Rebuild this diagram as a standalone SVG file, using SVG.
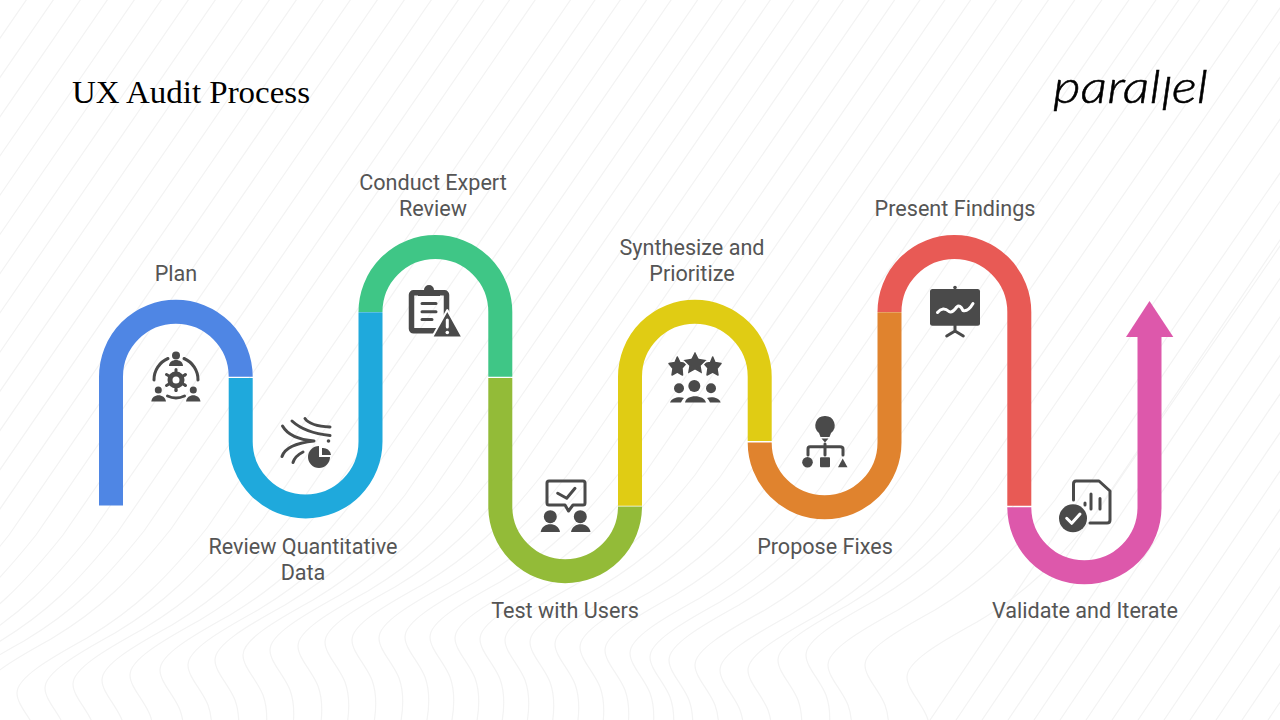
<svg xmlns="http://www.w3.org/2000/svg" width="1280" height="720" viewBox="0 0 1280 720">
<style>
.bg{fill:none;stroke:#f3f3f3;stroke-width:1.2}
.band{fill:none;stroke-width:24}
.lb{font-family:Roboto,"Liberation Sans",sans-serif;font-size:21.6px;fill:#555;text-anchor:middle}
.i{fill:#4a4a4a}
.s{fill:none;stroke:#4a4a4a;stroke-width:3;stroke-linecap:round;stroke-linejoin:round}
.w{fill:none;stroke:#fff;stroke-width:3;stroke-linecap:round;stroke-linejoin:round}
</style>
<defs>
<path id="wv" class="bg" d="M8,130 C22,95 28,62 20,40 C14,25 0,12 0,0 C0,-15 30,-33 70,-55 C120,-85 150,-115 190,-165 L720,-935"/>
<path id="st" class="bg" d="M0,0 L540,-800"/>
</defs>
<rect width="1280" height="720" fill="#fff"/>
<g id="background">
<use href="#wv" x="-640" y="700"/><use href="#wv" x="-613" y="700"/><use href="#wv" x="-586" y="700"/><use href="#wv" x="-559" y="700"/><use href="#wv" x="-532" y="700"/><use href="#wv" x="-505" y="700"/><use href="#wv" x="-478" y="700"/><use href="#wv" x="-451" y="700"/><use href="#wv" x="-424" y="700"/><use href="#wv" x="-397" y="700"/><use href="#wv" x="-370" y="700"/><use href="#wv" x="-343" y="700"/><use href="#wv" x="-316" y="700"/><use href="#wv" x="-289" y="700"/><use href="#wv" x="-262" y="700"/><use href="#wv" x="-235" y="700"/><use href="#wv" x="-208" y="700"/><use href="#wv" x="-181" y="700"/><use href="#wv" x="-154" y="700"/><use href="#wv" x="-127" y="700"/><use href="#wv" x="-100" y="700"/><use href="#wv" x="-73" y="698"/><use href="#wv" x="-46" y="696"/><use href="#wv" x="-19" y="694"/><use href="#wv" x="17" y="693"/><use href="#wv" x="45" y="688"/><use href="#wv" x="73" y="684"/><use href="#wv" x="102" y="680"/><use href="#wv" x="130" y="675"/><use href="#wv" x="160" y="670"/><use href="#wv" x="188" y="665"/><use href="#wv" x="215" y="660"/><use href="#wv" x="243" y="655"/><use href="#wv" x="270" y="650"/><use href="#wv" x="298" y="646"/><use href="#wv" x="325" y="642"/><use href="#wv" x="352" y="640"/><use href="#wv" x="379" y="638"/><use href="#wv" x="405" y="637"/><use href="#wv" x="430" y="637"/><use href="#wv" x="455" y="638"/><use href="#wv" x="480" y="639"/><use href="#wv" x="505" y="640"/><use href="#wv" x="530" y="642"/><use href="#wv" x="555" y="644"/><use href="#wv" x="580" y="647"/><use href="#wv" x="605" y="650"/><use href="#wv" x="630" y="653"/><use href="#wv" x="650" y="657"/><use href="#wv" x="669" y="660"/><use href="#wv" x="695" y="665"/><use href="#wv" x="720" y="670"/><use href="#wv" x="748" y="670"/><use href="#wv" x="778" y="660"/><use href="#wv" x="806" y="655"/><use href="#wv" x="828" y="665"/><use href="#wv" x="865" y="665"/><use href="#wv" x="907" y="677"/>
<use href="#st" x="930" y="720"/><use href="#st" x="956" y="720"/><use href="#st" x="982" y="720"/><use href="#st" x="1008" y="720"/><use href="#st" x="1034" y="720"/><use href="#st" x="1060" y="720"/><use href="#st" x="1086" y="720"/><use href="#st" x="1112" y="720"/><use href="#st" x="1138" y="720"/><use href="#st" x="1164" y="720"/><use href="#st" x="1190" y="720"/><use href="#st" x="1216" y="720"/><use href="#st" x="1242" y="720"/><use href="#st" x="1268" y="720"/>
</g>
<text id="title" x="72" y="103" font-family="'Liberation Serif',serif" font-size="32" fill="#000" textLength="238" lengthAdjust="spacingAndGlyphs">UX Audit Process</text>
<text id="logo" x="1053" y="103" font-family="Lato,'Open Sans',sans-serif" font-weight="300" font-style="italic" font-size="45" fill="#000" stroke="#000" stroke-width="0.5" textLength="155" lengthAdjust="spacingAndGlyphs">paral<tspan dy="7">l</tspan><tspan dy="-7">el</tspan></text>
<g id="connectors">
<path class="band" stroke="#4f86e4" d="M111,505.500 V376.700 A64.850,64.850 0 0 1 240.700,376.700"/>
<path class="band" stroke="#1fa9dc" d="M240.700,378 V441.500 A64.850,64.850 0 0 0 370.500,441.500 V312.300"/>
<path class="band" stroke="#3fc686" d="M370.500,311 V312 A64.850,64.850 0 0 1 500.300,312 V376.700"/>
<path class="band" stroke="#93bb38" d="M500.300,378 V506.400 A64.850,64.850 0 0 0 630,506.400 V507"/>
<path class="band" stroke="#e0cc14" d="M630,505.800 V376.700 A64.850,64.850 0 0 1 759.700,376.700 V441"/>
<path class="band" stroke="#e0832e" d="M759.700,442.400 A64.850,64.850 0 0 0 889.500,442.400 V312.300"/>
<path class="band" stroke="#e85a55" d="M889.500,311 V312 A64.850,64.850 0 0 1 1019.300,312 V505.800"/>
<path class="band" stroke="#dd58ab" d="M1019.300,507.200 A64.850,64.850 0 0 0 1149.500,507.200 V336"/>
<path fill="#dd58ab" d="M1149.500,301 L1173.300,337 H1126 Z"/>
</g>
<g id="plan">
<text class="lb" x="176" y="281">Plan</text>
<circle class="i" cx="176" cy="355.500" r="4"/><path class="i" d="M169,366 C169,358 183,358 183,366 Z"/>
<path class="s" d="M168,358.500 A23,23 0 0 0 154,380 M184,358.500 A23,23 0 0 1 198,380 M167.500,396 Q176,400 184.500,396"/>
<circle cx="176" cy="380" r="6" fill="none" stroke="#4a4a4a" stroke-width="5"/><path class="s" stroke-dasharray="3 15" d="M176,369.500 V390.500 M166.500,374.500 L185.500,385.500 M166.500,385.500 L185.500,374.500"/><path class="s" d="M185.500,385.500 L185,385 M185.500,374.500 L185,375 M176,390.500 V390"/><circle cx="176" cy="380" r="2.500" fill="#fff"/>
<circle class="i" cx="158.300" cy="390" r="3.500"/><path class="i" d="M151.300,401.500 C152,393 165,393 166,401.500 Z"/>
<circle class="i" cx="193.300" cy="390" r="3.500"/><path class="i" d="M186,401.500 C187,393 199.500,393 200.500,401.500 Z"/>
</g>
<g id="review-quantitative-data">
<text class="lb" x="303" y="553.500">Review Quantitative</text><text class="lb" x="303" y="579.500">Data</text>
<path class="s" stroke-width="3.500" d="M305,418.500 Q310,426 330,427 M292,421 Q305,433 330,435.500 M282.500,426 Q290,439 314,441 M282,456.500 Q286,444 314,441 M293,462.500 Q295,456 303,452"/>
<path class="i" d="M319,446 V457 H330 A11,11 0 1 1 319,446 Z"/><path class="i" d="M322,448 A8,8 0 0 1 331,455 H322 Z"/>
<circle class="i" cx="328.500" cy="441" r="1.800"/>
</g>
<g id="conduct-expert-review">
<text class="lb" x="433" y="190">Conduct Expert</text><text class="lb" x="433" y="216">Review</text>
<rect x="411.500" y="292.800" width="35" height="38" rx="2" fill="none" stroke="#4a4a4a" stroke-width="5.500"/>
<path class="i" d="M418,296 V290 H424 A5,5 0 0 1 434,290 H440 V296 Z"/>
<path class="s" d="M422,303.500 H436 M422,311.700 H436 M422,319.500 H432"/>
<path class="i" stroke="#fff" stroke-width="2" stroke-linejoin="round" d="M447.300,310 L462.500,337.500 H432 Z"/>
<path class="w" d="M447.300,320 V327"/><circle cx="447.300" cy="332.500" r="1.800" fill="#fff"/>
</g>
<g id="test-with-users">
<text class="lb" x="565" y="618">Test with Users</text>
<path class="s" d="M549,481 H583 Q585,481 585,483 V503 Q585,505 583,505 H573 L568.500,511 L565,505 H549 Q547,505 547,503 V483 Q547,481 549,481 Z"/>
<path class="s" d="M557.700,493.300 L566.700,498.300 L575,488.300"/>
<circle class="i" cx="550.300" cy="516.700" r="6.500"/><path class="i" d="M540.700,532 C542,521.500 558.500,521.500 560,532 Z"/>
<circle class="i" cx="580.300" cy="516.700" r="6.500"/><path class="i" d="M571,532 C572.500,521.500 589,521.500 590.500,532 Z"/>
</g>
<g id="synthesize-and-prioritize">
<text class="lb" x="692" y="255">Synthesize and</text><text class="lb" x="692" y="281">Prioritize</text>
<path class="i" stroke="#4a4a4a" stroke-width="1.500" stroke-linejoin="round" d="M677.300,357 L680,362.500 L686,363.500 L682,368 L682.500,375 L677.300,372 L672,375 L673,368.500 L669,363.500 L675,362.500 Z"/>
<path class="i" stroke="#4a4a4a" stroke-width="1.500" stroke-linejoin="round" d="M712.700,357 L715,362.500 L721,363.500 L717,368.500 L718,375 L712.700,372 L707,375 L708,368 L704,363.500 L710.500,362.500 Z"/>
<path class="i" stroke="#fff" stroke-width="1.500" stroke-linejoin="round" d="M695,350 L699,358 L708,359.500 L701.500,366 L703,375 L695,370.500 L687,375 L688.500,366 L682,359.500 L691,358 Z"/>
<circle class="i" cx="679" cy="388.300" r="5"/><circle class="i" cx="694.300" cy="386" r="6"/><circle class="i" cx="711" cy="388.300" r="5"/>
<path class="i" d="M685,402.500 C686,394 704,394 706,402.500 Z"/>
<path class="i" d="M670,402.500 C672,397 680,396.500 684,398 Q682,400 681,402.500 Z M720.700,402.500 C719,397 711,396.500 707,398 Q709,400 710,402.500 Z"/>
</g>
<g id="propose-fixes">
<text class="lb" x="825" y="553.500">Propose Fixes</text>
<path class="i" d="M825,416 A9.500,9.500 0 0 1 831,433 L829.500,437 H820.500 L819,433 A9.500,9.500 0 0 1 825,416 Z"/><path class="i" d="M821.500,438.500 H828.500 L825,442.500 Z"/>
<path class="s" d="M808,455 V449 Q808,446.800 810,446.800 H840 Q843,446.800 843,449 V455 M825,444 V455"/>
<circle class="i" cx="807.500" cy="462.300" r="5.300"/><rect class="i" x="820" y="457.300" width="10" height="10" rx="1"/><path class="i" d="M842.700,458.500 L847.500,467.300 H838 Z"/>
</g>
<g id="present-findings">
<text class="lb" x="955" y="216">Present Findings</text>
<circle class="i" cx="955" cy="287.500" r="1.800"/><rect class="i" x="930" y="289" width="50" height="36.700" rx="2.500"/>
<path class="w" d="M937.500,312.500 Q943,306 949,311.500 Q952,313.500 956.700,307 Q960,304 963,310.500 Q968,312 973,303.500"/>
<path class="s" d="M955,325 V331.500 M946.700,336 L955,331 L963.300,336"/>
</g>
<g id="validate-and-iterate">
<text class="lb" x="1085" y="618">Validate and Iterate</text>
<path class="s" d="M1073.500,500 V484 Q1073.500,481 1076,481 H1099 L1110,491 V520 Q1110,523 1107,523 H1090"/>
<path class="s" d="M1091,494 V509 M1100,498.500 V509 M1085,503 V505"/>
<circle class="i" cx="1073" cy="518.300" r="14"/>
<path class="w" d="M1066.700,518.300 L1071.700,523.300 L1080,514"/>
</g>
</svg>
